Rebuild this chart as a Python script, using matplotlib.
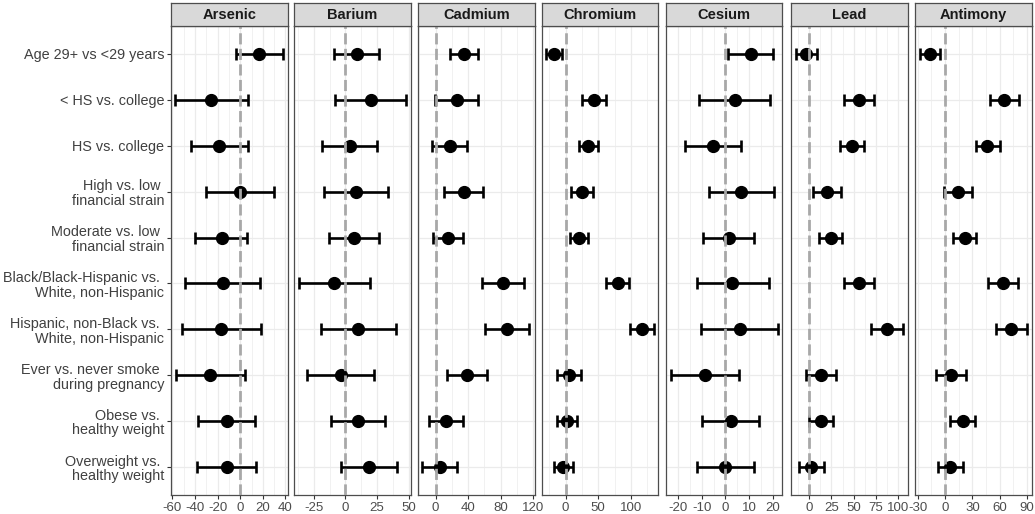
import matplotlib.pyplot as plt
import matplotlib.ticker as ticker
import numpy as np

plt.rcParams['font.family'] = ['Liberation Sans', 'DejaVu Sans']
plt.rcParams['axes.unicode_minus'] = False

labels = [
    "Age 29+ vs <29 years",
    "< HS vs. college",
    "HS vs. college",
    "High vs. low \nfinancial strain",
    "Moderate vs. low \nfinancial strain",
    "Black/Black-Hispanic vs. \nWhite, non-Hispanic",
    "Hispanic, non-Black vs. \nWhite, non-Hispanic",
    "Ever vs. never smoke \nduring pregnancy",
    "Obese vs. \nhealthy weight",
    "Overweight vs. \nhealthy weight",
]
metals = ['Arsenic', 'Barium', 'Cadmium', 'Chromium', 'Cesium', 'Lead', 'Antimony']

# percent difference estimates with 95% CI
arsenic_est = [16.6, -25.5, -18.4, 0.0, -16.6, -15.7, -16.9, -26.4, -12.1, -11.6]
arsenic_lo = [-3.9, -58.1, -43.9, -29.9, -39.7, -48.6, -51.9, -57.2, -37.3, -37.9]
arsenic_hi = [37.6, 6.8, 6.8, 29.6, 6.2, 17.2, 18.1, 4.1, 12.7, 14.2]

barium_est = [8.9, 20.0, 3.2, 8.2, 6.8, -8.9, 10.0, -3.7, 10.0, 18.4]
barium_lo = [-8.9, -8.2, -18.7, -17.4, -12.9, -36.8, -19.5, -30.3, -11.6, -3.7]
barium_hi = [26.6, 48.2, 25.3, 33.7, 26.6, 19.5, 40.3, 22.9, 31.6, 40.5]

cadmium_est = [35.3, 26.3, 17.4, 34.4, 15.0, 82.7, 87.1, 38.5, 13.0, 5.7]
cadmium_lo = [18.2, -0.4, -4.1, 10.1, -3.6, 56.7, 60.8, 13.8, -7.7, -16.2]
cadmium_hi = [52.3, 52.3, 38.1, 58.4, 33.6, 109.0, 115.1, 63.2, 33.6, 26.3]

chromium_est = [-17.3, 43.8, 34.6, 25.4, 20.9, 79.9, 116.5, 4.6, 2.5, -3.6]
chromium_lo = [-29.5, 24.9, 20.4, 8.1, 7.1, 62.6, 98.2, -13.7, -12.7, -17.8]
chromium_hi = [-5.1, 62.6, 49.4, 42.7, 34.6, 97.2, 135.4, 22.9, 17.3, 11.7]

cesium_est = [10.6, 4.1, -5.2, 6.6, 1.3, 2.9, 6.2, -8.5, 2.2, 0.0]
cesium_lo = [1.0, -11.1, -17.1, -7.0, -9.4, -12.2, -10.2, -23.0, -9.7, -12.2]
cesium_hi = [20.2, 19.0, 6.7, 20.3, 12.0, 18.2, 22.1, 5.7, 14.1, 12.2]

lead_est = [-4.1, 55.9, 48.0, 20.3, 24.0, 55.6, 87.1, 12.8, 13.5, 2.3]
lead_lo = [-15.4, 39.4, 34.2, 3.8, 11.3, 38.7, 69.8, -4.1, -0.8, -11.6]
lead_hi = [8.3, 72.4, 61.9, 36.0, 36.8, 72.4, 105.1, 30.4, 26.7, 16.1]

antimony_est = [-16.5, 65.1, 46.3, 14.3, 21.7, 63.6, 72.8, 6.3, 19.5, 5.9]
antimony_lo = [-27.6, 48.9, 33.5, -1.5, 9.2, 47.1, 55.5, -9.9, 5.9, -7.7]
antimony_hi = [-5.9, 80.9, 59.9, 29.8, 34.2, 80.1, 90.4, 22.4, 33.1, 19.5]

series = {
    'Arsenic': (arsenic_est, arsenic_lo, arsenic_hi),
    'Barium': (barium_est, barium_lo, barium_hi),
    'Cadmium': (cadmium_est, cadmium_lo, cadmium_hi),
    'Chromium': (chromium_est, chromium_lo, chromium_hi),
    'Cesium': (cesium_est, cesium_lo, cesium_hi),
    'Lead': (lead_est, lead_lo, lead_hi),
    'Antimony': (antimony_est, antimony_lo, antimony_hi),
}

# axis settings per panel
xlims = [(-61.3, 41.8), (-40.8, 51.5), (-21.5, 121.4), (-36.2, 142.4),
         (-25.1, 24.1), (-20.6, 110.7), (-33, 94.8)]
major_ticks = [[-60, -40, -20, 0, 20, 40], [-25, 0, 25, 50], [0, 40, 80, 120],
               [0, 50, 100], [-20, -10, 0, 10, 20], [0, 25, 50, 75, 100],
               [-30, 0, 30, 60, 90]]
minor_step = [10, 12.5, 20, 25, 5, 12.5, 15]

W, H = 1035, 514
fig = plt.figure(figsize=(W / 100, H / 100), dpi=100)

panel_left = [171, 294, 418, 542, 666, 791, 915]
panel_w = 116.5
top, bottom, strip_top = 26, 495, 3

y = np.arange(len(labels))
grid_col = '#EBEBEB'
border_col = '#4d4d4d'

for i, metal in enumerate(metals):
    est, lo, hi = [np.array(v) for v in series[metal]]
    ax = fig.add_axes([panel_left[i] / W, 1 - bottom / H, panel_w / W, (bottom - top) / H])

    ax.errorbar(est, y, xerr=[est - lo, hi - est], fmt='o', color='black',
                markersize=8.5, capsize=4, elinewidth=1.9, capthick=1.9, zorder=3)
    # reference line sits on top of the points, as in the original
    ax.axvline(0, color='#A8A8A8', linestyle=(0, (4, 1.6)), linewidth=2.0, zorder=5)

    ax.set_xlim(*xlims[i])
    ax.set_ylim(len(labels) - 0.4, -0.6)
    ax.set_xticks(major_ticks[i])
    ax.xaxis.set_minor_locator(ticker.MultipleLocator(minor_step[i]))
    ax.set_yticks(y)
    ax.set_axisbelow(True)
    ax.grid(which='major', color=grid_col, linewidth=0.9)
    ax.grid(which='minor', axis='x', color=grid_col, linewidth=0.5)
    ax.tick_params(which='minor', length=0)
    ax.tick_params(axis='x', which='major', length=3, width=0.8, color='#333333',
                   labelsize=9.5, labelcolor='#4d4d4d', pad=2)
    if i == 0:
        ax.set_yticklabels(labels, fontsize=10.4, color='#404040', linespacing=1.05)
        ax.tick_params(axis='y', length=3, width=0.8, color='#333333', pad=2)
    else:
        ax.set_yticklabels([])
        ax.tick_params(axis='y', length=0)
    for s in ax.spines.values():
        s.set_color(border_col)
        s.set_linewidth(0.9)

    # facet strip
    sax = fig.add_axes([panel_left[i] / W, 1 - top / H, panel_w / W, (top - strip_top) / H])
    sax.set_facecolor('#D9D9D9')
    sax.set_xticks([])
    sax.set_yticks([])
    for s in sax.spines.values():
        s.set_color(border_col)
        s.set_linewidth(0.9)
    sax.text(0.5, 0.47, metal, ha='center', va='center', fontsize=10.5,
             fontweight='bold', color='#1a1a1a', transform=sax.transAxes)

fig.savefig('out.png', dpi=100)
